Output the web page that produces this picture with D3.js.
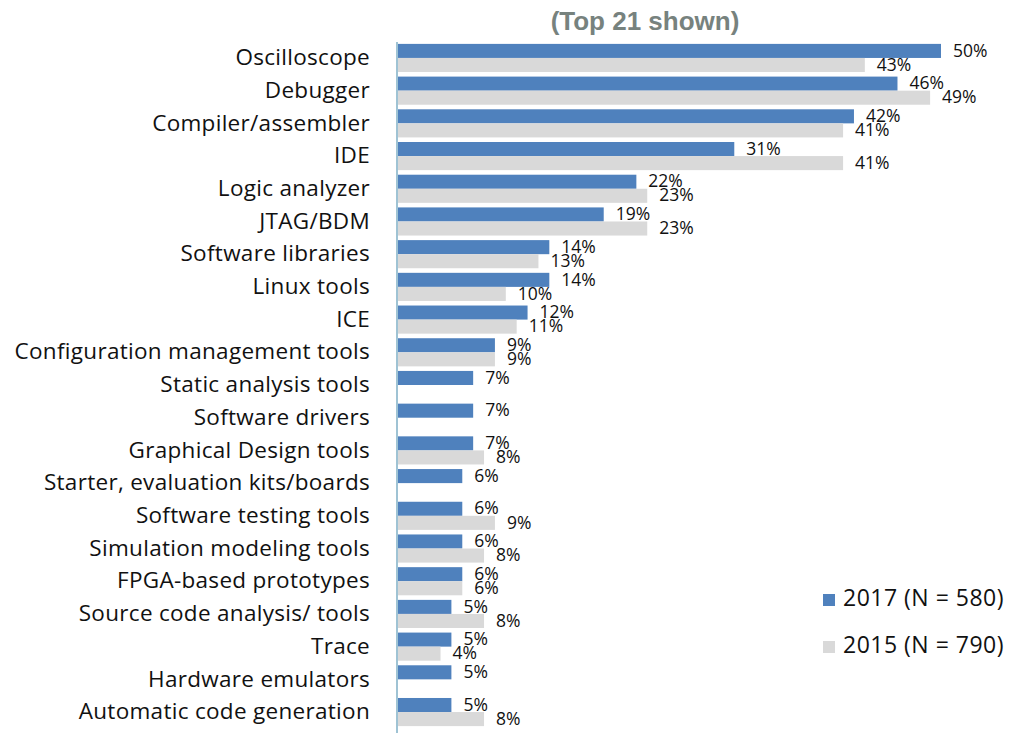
<!DOCTYPE html>
<html><head><meta charset="utf-8">
<script src="https://cdn.jsdelivr.net/npm/d3@7"></script>
<style>body{margin:0;background:#fff}</style></head>
<body><svg id="c" width="1024" height="738"></svg>
<script>
const categories = ["Oscilloscope","Debugger","Compiler/assembler","IDE","Logic analyzer","JTAG/BDM","Software libraries","Linux tools","ICE","Configuration management tools","Static analysis tools","Software drivers","Graphical Design tools","Starter, evaluation kits/boards","Software testing tools","Simulation modeling tools","FPGA-based prototypes","Source code analysis/ tools","Trace","Hardware emulators","Automatic code generation"];
const values2017 = [50,46,42,31,22,19,14,14,12,9,7,7,7,6,6,6,6,5,5,5,5];
const values2015 = [43,49,41,41,23,23,13,10,11,9,null,null,8,null,9,8,6,8,4,null,8];
const seriesNames = ["2017 (N = 580)","2015 (N = 790)"];
const title = "(Top 21 shown)";

const svg = d3.select("#c");
const colors = ["#4f81bd","#d9d9d9"];
const x = d3.scaleLinear().domain([0,50]).range([397,941]);
const y = d3.scaleBand().domain(categories).range([41.6,728.4]).paddingInner(0.14).paddingOuter(0.07);
const sub = d3.scaleBand().domain([0,1]).range([0,y.bandwidth()]);

svg.append("text").attr("x",645).attr("y",30).attr("text-anchor","middle")
  .attr("font-family","Liberation Sans, Arial, sans-serif").attr("font-weight","bold")
  .attr("font-size",26).attr("fill","#77827e").text(title);

const series = [values2017, values2015];
series.forEach((vals,si)=>{
  const g = svg.append("g");
  categories.forEach((c,i)=>{
    const v = vals[i];
    if (v==null) return;
    const y0 = y(c)+sub(si);
    g.append("rect").attr("x",x(0)).attr("y",y0).attr("width",x(v)-x(0)).attr("height",sub.bandwidth()).attr("fill",colors[si]);
    g.append("text").attr("x",x(v)+12).attr("y",y0+sub.bandwidth()/2+1).attr("dominant-baseline","middle")
      .attr("font-family","Open Sans, sans-serif").attr("font-size",17.5).attr("fill","#111").text(v+"%");
  });
});

// axis line
svg.append("line").attr("x1",x(0)).attr("x2",x(0)).attr("y1",42).attr("y2",733).attr("stroke","#9fc3d4").attr("stroke-width",2);

// category labels
const yAxis = d3.axisLeft(y).tickSize(0).tickPadding(0);
const ga = svg.append("g").attr("transform","translate(370,0)").call(yAxis);
ga.select(".domain").remove();
ga.selectAll("text").attr("font-family","Open Sans, sans-serif").attr("font-size",22.5)
  .attr("letter-spacing",0.3).attr("fill","#111");

// legend
const lg = svg.append("g");
seriesNames.forEach((n,i)=>{
  const yy = 600 + i*47;
  lg.append("rect").attr("x",823).attr("y",yy-6).attr("width",12).attr("height",12).attr("fill",colors[i]);
  lg.append("text").attr("x",843).attr("y",yy).attr("dominant-baseline","middle")
    .attr("font-family","Open Sans, sans-serif").attr("font-size",23).attr("letter-spacing",0.5)
    .attr("fill","#111").text(n);
});
</script></body></html>
